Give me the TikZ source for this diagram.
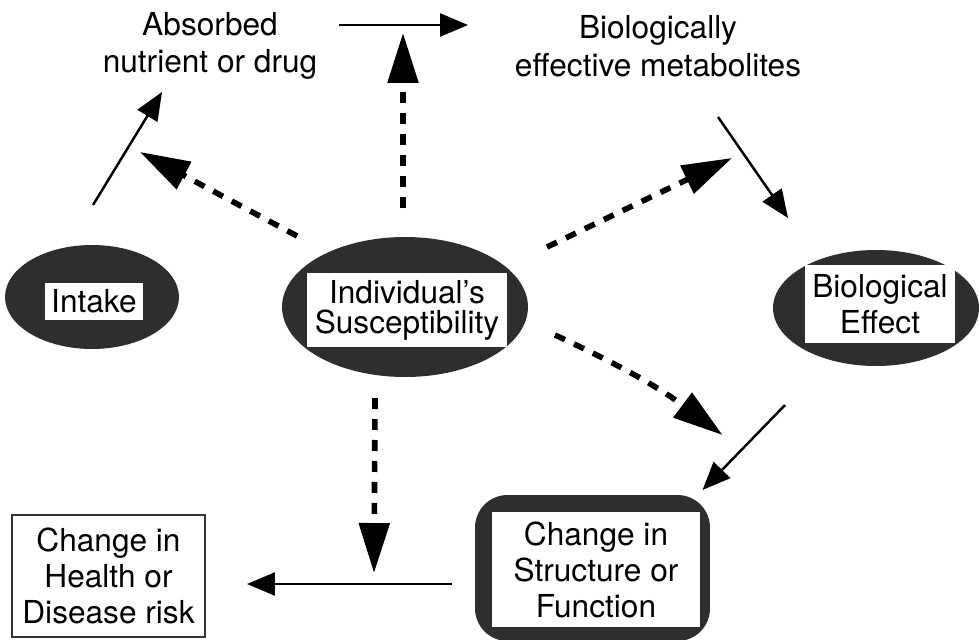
\documentclass[tikz,border=0pt]{standalone}
\usepackage{fontspec}
\setmainfont{TeX Gyre Heros}
\usetikzlibrary{shapes.geometric,arrows.meta}

\begin{document}
\begin{tikzpicture}[x=0.02cm, y=-0.02cm,
    every node/.style={font=\fontsize{18}{20.5}\selectfont, inner sep=0pt, outer sep=0pt, align=center},
    blob/.style={ellipse, fill=black!82},
    tag/.style={fill=white},
    thinarrow/.style={line width=1.4pt, -{Triangle[length=0.56cm, width=0.46cm]}},
    dashedarrow/.style={line width=3.2pt, dash pattern=on 0.22cm off 0.2cm, -{Triangle[length=1cm, width=0.6cm]}}]
    \useasboundingbox (0,0) rectangle (979,639);

    \node[blob, minimum width=3.48cm, minimum height=2.08cm] (intake) at (92,297) {};
    \node[tag, minimum width=1.96cm, minimum height=0.74cm] (intake-box) at (94,301) {Intake};
    \node[blob, minimum width=4.92cm, minimum height=2.8cm] (susc) at (405,307) {};
    \node[tag, minimum width=4cm, minimum height=1.5cm, font=\fontsize{18}{17}\selectfont] (susc-box) at (407,310) {Individual's\\Susceptibility};
    \node[blob, minimum width=4.12cm, minimum height=2.32cm] (effect) at (876,308) {};
    \node[tag, minimum width=3cm, minimum height=1.56cm] (effect-box) at (880,304) {Biological\\Effect};
    \node[rounded corners=0.65cm, fill=black!82, minimum width=4.7cm, minimum height=2.92cm] (change) at (592.5,568) {};
    \node[tag, minimum width=4.16cm, minimum height=2.3cm] (change-box) at (596,569.5) {Change in\\Structure or\\Function};
    \node[draw=black!80, line width=0.8pt, fill=white, minimum width=3.86cm, minimum height=2.44cm] (health) at (108.5,576) {Change in\\Health or\\Disease risk};
    \node[font=\fontsize{18}{21.5}\selectfont] (absorbed) at (210,46) {Absorbed\\nutrient or drug};
    \node[font=\fontsize{18}{21.5}\selectfont] (metab) at (658,46) {Biologically\\effective metabolites};

    \draw[thinarrow] ([shift={(1,-92)}]intake.center) -- ([shift={(-48,46)}]absorbed.center);
    \draw[thinarrow] ([shift={(129,-21)}]absorbed.center) -- ([shift={(-190,-21)}]metab.center);
    \draw[thinarrow] ([shift={(60,71)}]metab.center) -- ([shift={(-88,-90)}]effect.center);
    \draw[thinarrow] ([shift={(-91,97)}]effect.center) -- ([shift={(110,-78)}]change.center);
    \draw[thinarrow] ([shift={(-140.5,16)}]change.center) -- ([shift={(138.5,8)}]health.center);

    \draw[dashedarrow] ([shift={(-2,-99)}]susc.center) -- ([shift={(-2,-274)}]susc.center);
    \draw[dashedarrow] ([shift={(-108,-71)}]susc.center) -- ([shift={(48,-145)}]intake.center);
    \draw[dashedarrow] ([shift={(142,-60)}]susc.center) -- ([shift={(-144,-150)}]effect.center);
    \draw[dashedarrow] ([shift={(150,28)}]susc.center) to[bend left=6] ([shift={(130,-133)}]change.center);
    \draw[dashedarrow] ([shift={(-30,91)}]susc.center) -- ([shift={(-31,266)}]susc.center);
\end{tikzpicture}
\end{document}
